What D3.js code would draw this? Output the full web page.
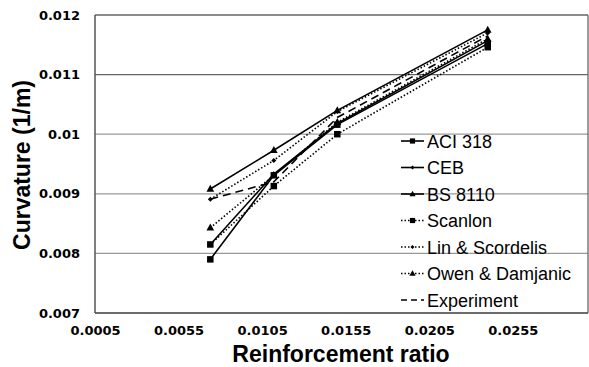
<!DOCTYPE html>
<html><head><meta charset="utf-8">
<script src="https://cdn.jsdelivr.net/npm/d3@7"></script>
<style>body{margin:0;background:#fff}svg{display:block}</style>
</head><body>
<svg id="c" width="589" height="367"></svg>
<script>
const ratio = [0.0074, 0.0112, 0.0150, 0.0240];
const aci318 = [0.00790, 0.00931, 0.01016, 0.01152];
const ceb = [0.00815, 0.00933, 0.01018, 0.01157];
const bs8110 = [0.00908, 0.00973, 0.01040, 0.01175];
const scanlon = [0.00815, 0.00913, 0.01000, 0.01146];
const linScordelis = [0.00891, 0.00956, 0.01038, 0.01170];
const owenDamjanic = [0.00843, 0.00931, 0.01020, 0.01160];
const experiment = [0.00891, 0.00920, 0.01028, 0.01165];
const xTicks = [0.0005, 0.0055, 0.0105, 0.0155, 0.0205, 0.0255];
const yTicks = [0.007, 0.008, 0.009, 0.010, 0.011, 0.012];
const yTickLabels = ["0.007", "0.008", "0.009", "0.01", "0.011", "0.012"];

const series = [
  {name: "ACI 318", values: aci318, dash: null, marker: "square"},
  {name: "CEB", values: ceb, dash: null, marker: "diamond"},
  {name: "BS 8110", values: bs8110, dash: null, marker: "triangle"},
  {name: "Scanlon", values: scanlon, dash: "1.5,2", marker: "square"},
  {name: "Lin & Scordelis", values: linScordelis, dash: "1.5,2", marker: "diamond"},
  {name: "Owen & Damjanic", values: owenDamjanic, dash: "1.5,2", marker: "triangle"},
  {name: "Experiment", values: experiment, dash: "8,5", marker: null}
];

const svg = d3.select("#c");
const L = 95, R = 588, T = 15, B = 313;
const x = d3.scaleLinear().domain([0.0005, 0.0300]).range([L, R]);
const y = d3.scaleLinear().domain([0.007, 0.012]).range([B, T]);

// gridlines
svg.append("g").selectAll("line").data(yTicks).join("line")
  .attr("x1", L).attr("x2", R)
  .attr("y1", d => y(d)).attr("y2", d => y(d))
  .attr("stroke", d => (d >= 0.0109 ? "#666" : "#999")).attr("stroke-width", 1.3);

// frame
svg.append("line").attr("x1", R).attr("x2", R).attr("y1", T).attr("y2", B).attr("stroke", "#666").attr("stroke-width", 1.3);
svg.append("line").attr("x1", L).attr("x2", L).attr("y1", T).attr("y2", B).attr("stroke", "#555").attr("stroke-width", 1.5);
svg.append("line").attr("x1", L).attr("x2", R).attr("y1", B).attr("y2", B).attr("stroke", "#555").attr("stroke-width", 1.5);

// axes via d3 axes (labels only)
const yAxis = d3.axisLeft(y).tickValues(yTicks).tickFormat((d, i) => yTickLabels[i]).tickSize(0).tickPadding(15);
const gy = svg.append("g").attr("transform", `translate(${L},0)`).call(yAxis);
gy.select(".domain").remove();
gy.selectAll("text").attr("font-family", "DejaVu Sans").attr("font-weight", "bold").attr("font-size", 13).attr("fill", "#000");

const xAxis = d3.axisBottom(x).tickValues(xTicks).tickFormat(d3.format(".4f")).tickSize(0).tickPadding(13);
const gx = svg.append("g").attr("transform", `translate(0,${B})`).call(xAxis);
gx.select(".domain").remove();
gx.selectAll("text").attr("font-family", "DejaVu Sans").attr("font-weight", "bold").attr("font-size", 13).attr("fill", "#000");

// titles
svg.append("text").attr("x", 341).attr("y", 362).attr("text-anchor", "middle")
  .attr("font-family", "Liberation Sans, Arial, sans-serif").attr("font-weight", "bold").attr("font-size", 23)
  .text("Reinforcement ratio");
svg.append("text").attr("transform", "translate(30,165) rotate(-90)").attr("text-anchor", "middle")
  .attr("font-family", "Liberation Sans, Arial, sans-serif").attr("font-weight", "bold").attr("font-size", 23)
  .text("Curvature (1/m)");

function markerPath(type, s) {
  if (type === "square") return d3.symbol(d3.symbolSquare, s * s)();
  if (type === "diamond") return `M0,${-s/2}L${s/2},0L0,${s/2}L${-s/2},0Z`;
  if (type === "triangle") return `M0,${-s*0.6}L${s*0.55},${s*0.4}L${-s*0.55},${s*0.4}Z`;
  return null;
}
const msize = {square: 6.5, diamond: 5, triangle: 7};

const line = d3.line().x(d => x(d[0])).y(d => y(d[1]));
series.forEach(s => {
  const pts = ratio.map((r, i) => [r, s.values[i]]);
  svg.append("path").attr("d", line(pts)).attr("fill", "none").attr("stroke", "#000")
    .attr("stroke-width", 1.6).attr("stroke-dasharray", s.dash);
  if (s.marker) {
    svg.append("g").selectAll("path").data(pts).join("path")
      .attr("transform", d => `translate(${x(d[0])},${y(d[1])})`)
      .attr("d", markerPath(s.marker, msize[s.marker])).attr("fill", "#000");
  }
});

// legend
const lg = svg.append("g");
series.forEach((s, i) => {
  const cy = 141 + i * 26.5;
  lg.append("line").attr("x1", 401).attr("x2", 424).attr("y1", cy).attr("y2", cy)
    .attr("stroke", "#000").attr("stroke-width", 1.6).attr("stroke-dasharray", s.dash ? (s.marker ? "1.5,2" : "6,4") : null);
  if (s.marker) {
    lg.append("path").attr("transform", `translate(412.5,${cy})`)
      .attr("d", markerPath(s.marker, msize[s.marker] * 0.8)).attr("fill", "#000");
  }
  lg.append("text").attr("x", 427).attr("y", cy + 6.5)
    .attr("font-family", "Liberation Sans, Arial, sans-serif").attr("font-size", 18).attr("fill", "#000")
    .text(s.name);
});
</script>
</body></html>
